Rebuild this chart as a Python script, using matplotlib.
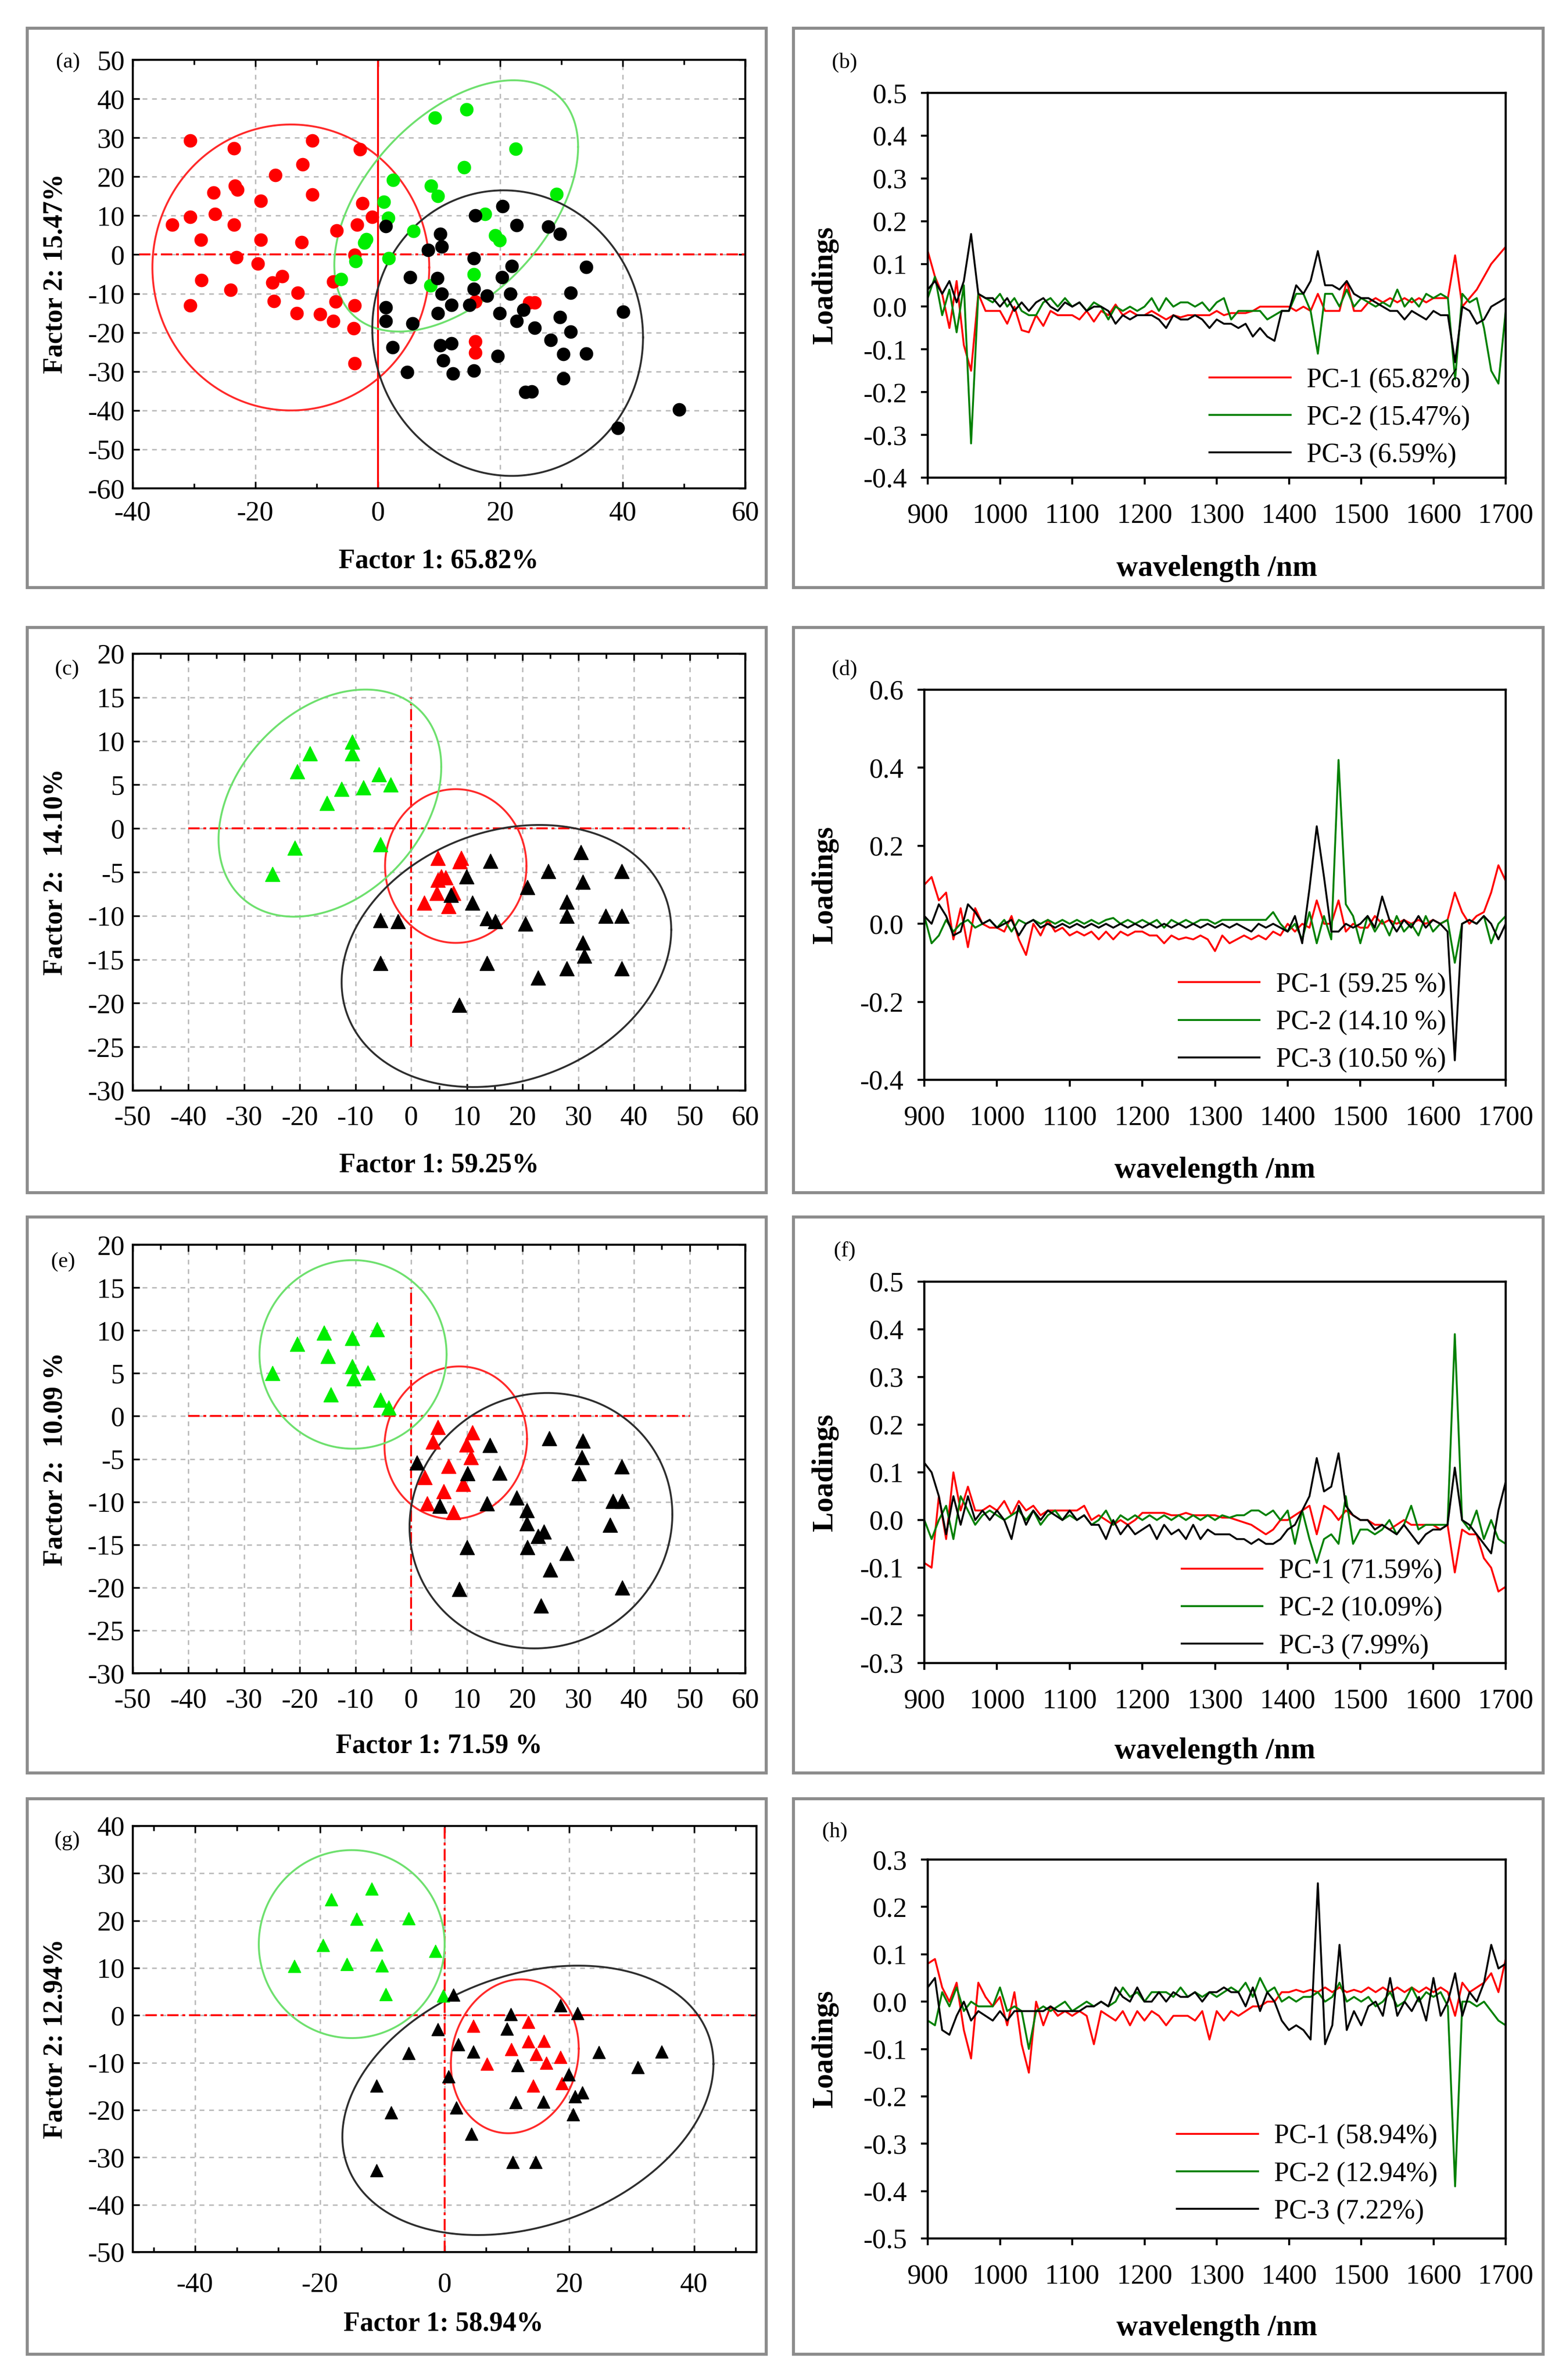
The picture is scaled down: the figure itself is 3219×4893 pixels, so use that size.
import numpy as np
import matplotlib
matplotlib.use('Agg')
import matplotlib.pyplot as plt
from matplotlib.patches import Rectangle
from matplotlib.ticker import MultipleLocator, FormatStrFormatter

plt.rcParams['font.family'] = ['Liberation Serif', 'DejaVu Serif']
plt.rcParams['axes.unicode_minus'] = False

# ---------------- scatter data (score plots) ----------------
a_red = [(-30.6, 29.3), (-23.5, 27.3), (-10.7, 29.3), (-2.9, 27.0), (-12.3, 23.2), (-16.7, 20.4),
         (-26.8, 15.9), (-23.3, 17.6), (-22.9, 16.7), (-10.7, 15.4), (-19.1, 13.8), (-2.5, 13.2),
         (-30.6, 9.7), (-26.6, 10.4), (-0.9, 9.7), (-33.6, 7.7), (-23.5, 7.7), (-3.4, 7.7),
         (-6.7, 6.2), (-28.9, 3.8), (-19.1, 3.8), (-12.4, 3.2), (-23.1, -0.7), (-3.8, -0.1),
         (-19.6, -2.3), (-28.8, -6.5), (-15.6, -5.5), (-17.2, -7.2), (-24.0, -9.0), (-13.1, -9.8),
         (-7.3, -6.9), (-30.6, -13.0), (-17.0, -11.9), (-6.9, -12.1), (-3.8, -13.1), (-13.2, -15.1),
         (-9.4, -15.3), (-7.3, -17.0), (-3.9, -18.9), (-3.8, -27.9), (15.9, -12.1), (15.9, -22.3),
         (15.9, -25.2), (24.7, -12.3), (25.6, -12.3)]
a_green = [(9.3, 35.1), (14.5, 37.3), (22.5, 27.2), (14.1, 22.4), (2.5, 19.1), (8.7, 17.6),
           (9.8, 15.0), (1.0, 13.6), (1.7, 9.4), (17.5, 10.4), (29.2, 15.5), (5.8, 6.0),
           (-1.9, 3.9), (-2.2, 3.0), (19.2, 4.9), (19.9, 3.7), (-3.6, -1.7), (1.8, -0.9),
           (-6.0, -6.3), (15.7, -5.1), (8.6, -7.9)]
a_black = [(20.4, 12.4), (15.9, 10.1), (1.3, 7.3), (22.7, 7.6), (27.8, 7.2), (29.7, 5.3),
           (10.2, 5.3), (10.4, 2.1), (8.2, 1.2), (15.7, -0.9), (21.9, -2.9), (34.0, -3.2),
           (5.3, -5.8), (9.7, -6.0), (20.3, -5.8), (15.7, -8.8), (17.8, -10.5), (10.4, -10.1),
           (21.6, -10.1), (31.5, -9.8), (12.0, -12.9), (15.0, -12.9), (1.3, -13.6), (23.8, -14.2),
           (9.8, -15.1), (19.9, -15.1), (40.1, -14.7), (1.3, -17.0), (5.7, -17.7), (22.7, -17.0),
           (29.7, -16.1), (25.6, -18.8), (31.5, -19.8), (28.2, -21.9), (2.4, -23.8), (10.2, -23.3),
           (12.0, -22.8), (10.7, -27.1), (19.6, -26.1), (30.3, -25.6), (34.0, -25.4), (4.8, -30.2),
           (12.3, -30.5), (15.7, -29.8), (30.3, -31.8), (24.1, -35.3), (25.1, -35.1), (49.2, -39.8),
           (39.2, -44.5)]

c_green = [(-10.6, 9.9), (-10.6, 8.6), (-18.2, 8.6), (-20.5, 6.5), (-5.8, 6.2), (-3.7, 5.0),
           (-8.6, 4.7), (-12.5, 4.5), (-15.1, 2.9), (-20.9, -2.2), (-5.5, -1.8), (-24.9, -5.2)]
c_red = [(4.8, -3.4), (9.0, -3.4), (8.7, -3.8), (5.4, -5.5), (6.2, -5.6), (4.8, -5.9),
         (4.6, -7.4), (7.6, -7.4), (2.3, -8.5), (6.7, -8.9)]
c_black = [(30.5, -2.7), (14.2, -3.7), (24.6, -4.9), (37.8, -4.9), (9.9, -5.5), (30.8, -6.1),
           (20.9, -6.7), (7.1, -7.6), (11.0, -8.5), (27.9, -8.4), (27.9, -10.0), (34.9, -10.0),
           (37.8, -10.0), (-5.5, -10.5), (-2.4, -10.6), (13.6, -10.3), (15.1, -10.6), (20.5, -10.9),
           (30.8, -13.1), (31.1, -14.6), (-5.5, -15.4), (13.6, -15.4), (27.9, -16.0), (37.8, -16.0),
           (22.8, -17.1), (8.6, -20.2)]

e_green = [(-6.1, 10.1), (-15.7, 9.7), (-10.6, 9.1), (-20.5, 8.4), (-15.0, 7.0), (-10.6, 5.8),
           (-7.8, 5.1), (-24.9, 5.0), (-10.3, 4.4), (-14.4, 2.5), (-5.5, 1.9), (-4.0, 1.0)]
e_red = [(4.8, -1.3), (11.0, -1.9), (3.9, -3.0), (9.9, -3.3), (10.7, -4.8), (6.7, -5.8),
         (2.4, -7.1), (9.3, -7.9), (5.8, -8.8), (2.9, -10.2), (7.6, -11.2)]
e_black = [(24.8, -2.6), (30.8, -2.9), (14.1, -3.4), (30.6, -4.8), (1.0, -5.4), (37.8, -5.9),
           (15.9, -6.6), (10.1, -6.7), (30.1, -6.7), (18.9, -9.5), (36.2, -9.9), (37.9, -9.9),
           (13.6, -10.2), (5.1, -10.5), (20.8, -11.0), (20.8, -12.5), (35.7, -12.7), (23.8, -13.5),
           (22.8, -14.0), (10.0, -15.3), (20.9, -15.3), (27.9, -16.0), (25.0, -17.9), (8.6, -20.2),
           (37.9, -20.0), (23.3, -22.1)]

g_green = [(-11.7, 26.7), (-18.2, 24.5), (-5.8, 20.5), (-14.1, 20.4), (-19.5, 14.8), (-10.9, 14.9),
           (-1.5, 13.6), (-24.1, 10.4), (-15.7, 10.8), (-10.1, 10.5), (-9.4, 4.5), (-0.2, 4.1)]
g_red = [(4.6, -2.2), (13.4, -1.4), (13.4, -5.5), (15.9, -5.4), (10.7, -7.2), (14.7, -8.2),
         (18.6, -8.8), (6.8, -10.2), (16.3, -10.0), (14.2, -14.9), (18.8, -14.3)]
g_black = [(1.4, 4.4), (18.6, 2.1), (21.3, 0.4), (10.6, 0.2), (10.0, -2.8), (-1.1, -2.9),
           (2.2, -6.1), (4.6, -7.7), (-5.8, -8.0), (24.7, -7.8), (34.8, -7.7), (11.7, -10.5),
           (31.0, -11.0), (0.6, -12.9), (19.9, -12.5), (-10.9, -14.9), (20.9, -17.1), (22.1, -16.3),
           (11.4, -18.4), (15.8, -18.3), (1.9, -19.5), (-8.6, -20.5), (20.6, -20.9), (4.3, -25.0),
           (10.9, -31.0), (14.6, -31.0), (-10.9, -32.7)]

# confidence ellipses: (centre x, centre y, sd x, sd y, correlation)
a_ell = {'red': (-14.2, -3.3, 22.6, 36.7, 0.0), 'green': (12.8, 12.5, 19.9, 32.25, 0.47),
         'black': (21.2, -20.15, 22.1, 36.65, -0.03)}
c_ell = {'red': (8.0, -4.3, 12.7, 8.8, 0.0), 'green': (-14.6, 2.9, 20.0, 13.0, 0.32),
         'black': (17.1, -14.6, 29.6, 15.0, 0.2)}
e_ell = {'red': (8.0, -3.1, 12.8, 8.9, 0.05), 'green': (-10.45, 7.2, 16.8, 11.0, 0.0),
         'black': (23.3, -12.2, 23.6, 14.9, 0.05)}
g_ell = {'red': (11.25, -8.65, 10.25, 16.25, 0.1), 'green': (-14.9, 15.05, 14.9, 19.85, 0.0),
         'black': (13.35, -17.95, 29.75, 28.45, 0.27)}

# ---------------- loadings (900-1700 nm, 10 nm step) ----------------
b_pc1 = [0.13, 0.07, 0.03, -0.05, 0.06, -0.09, -0.15, 0.03, -0.01, -0.01,
         -0.01, -0.04, 0.00, -0.055, -0.06, -0.02, -0.045, -0.01, -0.02, -0.02,
         -0.02, -0.03, -0.01, -0.035, -0.01, -0.02, 0.005, -0.02, -0.01, -0.02,
         -0.02, -0.01, -0.02, -0.03, -0.02, -0.025, -0.02, -0.02, -0.02, -0.02,
         -0.01, -0.02, -0.015, -0.015, -0.015, -0.01, 0.00, 0.00, 0.00, 0.00,
         0.00, -0.01, 0.00, -0.01, 0.03, -0.01, -0.01, -0.01, 0.06, -0.01,
         -0.01, 0.01, 0.02, 0.01, 0.02, 0.01, 0.02, 0.01, 0.02, 0.01,
         0.02, 0.02, 0.02, 0.12, 0.00, 0.02, 0.04, 0.07, 0.10, 0.12,
         0.14]
b_pc2 = [0.02, 0.07, -0.02, 0.04, -0.06, 0.05, -0.32, 0.03, 0.02, 0.01,
         0.03, 0.00, 0.02, -0.01, -0.02, -0.02, 0.01, 0.02, 0.00, 0.02,
         0.00, 0.01, -0.01, 0.01, 0.00, -0.03, 0.00, -0.01, 0.00, -0.01,
         0.00, 0.02, -0.01, 0.02, 0.00, 0.01, 0.01, 0.00, 0.01, -0.01,
         0.01, 0.02, -0.03, -0.01, -0.01, -0.01, -0.01, -0.03, -0.02, -0.01,
         -0.01, 0.03, 0.03, -0.01, -0.11, 0.03, 0.03, 0.00, 0.04, 0.00,
         0.02, 0.01, 0.00, 0.01, 0.00, 0.04, 0.00, 0.02, 0.00, 0.03,
         0.02, 0.03, 0.02, -0.17, 0.03, 0.01, 0.02, -0.05, -0.15, -0.18,
         -0.01]
b_pc3 = [0.04, 0.06, 0.03, 0.06, 0.01, 0.06, 0.17, 0.03, 0.02, 0.02,
         0.00, 0.02, -0.01, 0.01, -0.01, 0.01, 0.02, 0.00, -0.01, 0.01,
         0.00, 0.01, -0.01, 0.00, 0.00, -0.01, -0.04, -0.02, -0.03, -0.02,
         -0.02, -0.02, -0.03, -0.05, -0.02, -0.03, -0.03, -0.02, -0.03, -0.05,
         -0.03, -0.04, -0.04, -0.05, -0.04, -0.07, -0.05, -0.07, -0.08, -0.01,
         -0.01, 0.05, 0.03, 0.06, 0.13, 0.05, 0.05, 0.04, 0.06, 0.03,
         0.02, 0.02, 0.01, 0.00, -0.01, -0.01, -0.03, -0.01, -0.02, -0.03,
         -0.01, -0.02, -0.02, -0.13, 0.00, -0.01, -0.04, -0.03, 0.00, 0.01,
         0.02]

d_pc1 = [0.10, 0.12, 0.06, 0.08, -0.04, 0.04, -0.06, 0.04, 0.00, -0.01,
         -0.01, -0.02, 0.02, -0.04, -0.08, 0.00, -0.03, 0.01, -0.02, -0.01,
         -0.03, -0.02, -0.03, -0.02, -0.04, -0.02, -0.04, -0.02, -0.03, -0.02,
         -0.02, -0.03, -0.03, -0.05, -0.03, -0.04, -0.035, -0.04, -0.03, -0.04,
         -0.07, -0.03, -0.05, -0.04, -0.03, -0.04, -0.03, -0.04, -0.02, -0.03,
         0.00, -0.02, 0.00, -0.01, 0.06, 0.00, 0.00, 0.06, -0.02, 0.00,
         -0.01, -0.01, 0.02, 0.00, 0.01, 0.00, 0.01, 0.00, 0.01, 0.00,
         0.01, 0.00, 0.01, 0.08, 0.03, 0.00, 0.02, 0.03, 0.08, 0.15,
         0.11]
d_pc2 = [0.02, -0.05, -0.03, 0.01, -0.02, 0.00, 0.01, -0.01, 0.00, 0.01,
         -0.01, 0.01, -0.02, 0.01, 0.00, 0.01, 0.00, 0.01, 0.00, 0.01,
         0.00, 0.01, 0.00, 0.01, 0.00, 0.01, 0.015, 0.00, 0.01, 0.00,
         0.01, 0.00, 0.01, -0.01, 0.01, 0.00, 0.01, 0.00, 0.01, 0.01,
         0.00, 0.01, 0.01, 0.01, 0.01, 0.01, 0.01, 0.01, 0.03, 0.00,
         -0.02, 0.00, -0.04, 0.03, -0.05, 0.02, -0.04, 0.42, 0.05, 0.02,
         -0.05, 0.02, -0.02, 0.01, -0.03, 0.02, -0.02, 0.00, -0.03, 0.02,
         -0.02, 0.00, 0.01, -0.10, 0.00, 0.01, 0.00, 0.02, -0.05, 0.00,
         0.02]
d_pc3 = [0.02, 0.00, 0.05, 0.02, -0.03, -0.02, 0.05, 0.03, 0.00, 0.01,
         -0.01, 0.00, 0.01, -0.03, 0.00, 0.01, -0.01, 0.00, -0.01, 0.00,
         -0.01, 0.00, -0.01, 0.00, -0.01, 0.00, -0.01, 0.00, -0.01, 0.00,
         -0.01, 0.00, -0.01, 0.00, -0.01, 0.00, -0.01, 0.00, -0.01, 0.00,
         -0.01, 0.00, -0.01, 0.00, -0.01, -0.02, 0.00, -0.01, 0.00, -0.01,
         -0.02, 0.02, -0.05, 0.09, 0.25, 0.12, -0.02, -0.02, 0.00, -0.01,
         0.00, 0.02, -0.01, 0.07, 0.01, -0.02, 0.01, -0.01, 0.02, -0.01,
         0.01, 0.00, -0.02, -0.35, 0.00, 0.01, 0.00, 0.02, 0.00, -0.04,
         0.00]

f_pc1 = [-0.09, -0.10, 0.05, -0.04, 0.10, 0.02, 0.07, 0.02, 0.02, 0.03,
         0.02, 0.04, 0.01, 0.04, 0.02, 0.03, 0.01, 0.02, 0.02, 0.02,
         0.02, 0.02, 0.03, 0.00, 0.01, 0.00, -0.01, 0.00, -0.01, 0.00,
         0.015, 0.015, 0.015, 0.015, 0.01, 0.01, 0.015, 0.01, 0.01, 0.01,
         0.01, 0.005, 0.005, 0.00, -0.005, -0.01, -0.02, -0.03, -0.02, 0.00,
         0.00, 0.01, 0.02, 0.03, -0.03, 0.03, 0.02, 0.00, 0.02, 0.01,
         0.00, 0.00, -0.01, -0.01, -0.02, -0.01, 0.00, -0.01, -0.01, -0.01,
         -0.01, -0.02, -0.01, -0.11, -0.02, -0.03, -0.03, -0.08, -0.10, -0.15,
         -0.14]
f_pc2 = [0.00, -0.04, 0.00, 0.03, -0.04, 0.05, 0.02, -0.01, 0.01, 0.02,
         0.01, 0.00, 0.01, 0.02, 0.00, 0.02, -0.01, 0.01, 0.02, 0.00,
         0.01, 0.00, 0.01, -0.01, 0.00, 0.02, -0.01, 0.01, 0.00, 0.01,
         0.00, 0.01, 0.00, 0.01, 0.00, 0.01, 0.00, 0.01, 0.00, 0.01,
         0.00, 0.01, 0.005, 0.01, 0.01, 0.02, 0.02, 0.01, 0.02, 0.00,
         0.02, -0.05, 0.02, -0.04, -0.09, -0.04, -0.03, -0.05, 0.05, -0.05,
         -0.02, -0.02, -0.03, -0.02, 0.00, -0.03, -0.01, 0.03, -0.02, -0.01,
         -0.01, -0.01, -0.01, 0.39, 0.00, -0.02, 0.02, -0.04, 0.00, -0.04,
         -0.05]
f_pc3 = [0.12, 0.10, 0.05, -0.03, 0.05, -0.01, 0.05, 0.00, 0.02, 0.00,
         0.02, 0.00, -0.04, 0.03, -0.01, 0.02, 0.00, 0.02, 0.01, 0.00,
         0.02, 0.00, 0.01, -0.01, -0.01, -0.04, 0.00, -0.03, -0.01, -0.03,
         -0.02, -0.01, -0.04, -0.01, -0.03, -0.02, -0.04, -0.01, -0.04, -0.02,
         -0.03, -0.03, -0.03, -0.04, -0.04, -0.05, -0.04, -0.05, -0.05, -0.04,
         -0.02, -0.01, 0.02, 0.05, 0.13, 0.06, 0.07, 0.14, 0.03, 0.01,
         0.00, 0.00, -0.02, -0.01, -0.02, -0.03, -0.01, -0.03, -0.05, -0.03,
         -0.02, -0.02, -0.01, 0.11, 0.00, -0.01, -0.03, -0.05, -0.07, 0.02,
         0.08]

h_pc1 = [0.08, 0.09, 0.03, 0.00, 0.04, -0.06, -0.12, 0.04, 0.01, -0.01,
         0.01, -0.05, 0.02, -0.09, -0.15, 0.00, -0.05, -0.01, -0.03, -0.02,
         -0.03, -0.02, -0.03, -0.09, -0.02, -0.03, -0.04, -0.02, -0.05, -0.02,
         -0.04, -0.02, -0.03, -0.05, -0.03, -0.03, -0.03, -0.04, -0.02, -0.08,
         -0.02, -0.04, -0.02, -0.03, -0.02, -0.01, -0.01, 0.00, 0.00, 0.02,
         0.02, 0.025, 0.02, 0.025, 0.02, 0.03, 0.02, 0.03, 0.02, 0.025,
         0.02, 0.03, 0.02, 0.03, 0.02, 0.03, 0.02, 0.03, 0.02, 0.03,
         0.02, 0.03, 0.02, -0.03, 0.04, 0.02, 0.03, 0.04, 0.06, 0.02,
         0.09]
h_pc2 = [-0.04, -0.05, 0.02, -0.01, 0.03, -0.02, 0.00, -0.01, -0.01, -0.01,
         0.03, -0.02, -0.01, -0.02, -0.10, -0.02, -0.01, -0.02, -0.01, 0.00,
         -0.02, -0.01, 0.00, -0.01, 0.00, -0.01, 0.00, 0.03, 0.01, 0.02,
         0.00, 0.02, 0.02, 0.02, 0.01, 0.03, 0.01, 0.02, 0.01, 0.02,
         0.01, 0.02, 0.03, 0.02, 0.04, 0.01, 0.05, 0.02, 0.03, 0.00,
         0.01, 0.00, 0.01, 0.01, 0.02, 0.00, 0.01, 0.04, 0.00, 0.01,
         0.00, 0.01, -0.01, 0.00, 0.02, -0.01, 0.00, 0.03, 0.00, 0.02,
         0.01, 0.02, -0.01, -0.39, 0.00, 0.00, -0.01, 0.00, -0.02, -0.04,
         -0.05]
h_pc3 = [0.03, 0.05, -0.06, -0.07, -0.03, 0.00, -0.04, -0.02, -0.03, -0.04,
         -0.02, -0.04, -0.02, -0.02, -0.02, -0.02, -0.02, -0.01, -0.02, -0.02,
         -0.02, -0.02, -0.01, -0.01, 0.00, -0.01, 0.03, 0.01, 0.00, 0.03,
         0.00, 0.00, 0.02, 0.00, 0.02, 0.01, 0.01, 0.02, 0.00, 0.02,
         0.02, 0.03, 0.02, 0.02, -0.01, 0.03, -0.02, 0.02, 0.00, -0.04,
         -0.06, -0.05, -0.06, -0.08, 0.25, -0.09, -0.05, 0.12, -0.06, -0.02,
         -0.05, -0.01, 0.00, -0.03, 0.05, -0.03, 0.00, -0.02, 0.01, -0.04,
         0.05, -0.03, 0.00, 0.06, -0.03, 0.02, 0.00, 0.04, 0.12, 0.07,
         0.08]

b_labels = ['PC-1 (65.82%)', 'PC-2 (15.47%)', 'PC-3 (6.59%)']
d_labels = ['PC-1 (59.25 %)', 'PC-2 (14.10 %)', 'PC-3 (10.50 %)']
f_labels = ['PC-1 (71.59%)', 'PC-2 (10.09%)', 'PC-3 (7.99%)']
h_labels = ['PC-1 (58.94%)', 'PC-2 (12.94%)', 'PC-3 (7.22%)']

# ---------------- figure ----------------
W, H = 3219, 4893
fig = plt.figure(figsize=(W / 100, H / 100), dpi=100)

def ax_at(x0, x1, y0, y1):
    return fig.add_axes([x0 / W, 1 - y1 / H, (x1 - x0) / W, (y1 - y0) / H])

def ftext(x, y, s, **kw):
    fig.text(x / W, 1 - y / H, s, ha='center', va='center', **kw)

# panel frames
for (x0, x1) in [(56, 1575), (1631, 3172)]:
    for (y0, y1) in [(58, 1208), (1290, 2452), (2502, 3645), (3698, 4840)]:
        fig.add_artist(Rectangle((x0 / W, 1 - y1 / H), (x1 - x0) / W, (y1 - y0) / H,
                                 transform=fig.transFigure, fill=False,
                                 edgecolor='#8c8c8c', lw=4.5))

TICK_FS = 41
LAB_FS = 40
MK_RED, MK_GREEN, MK_BLACK = '#ff0000', '#00ee00', '#000000'
EL_COL = {'red': '#ff2a2a', 'green': '#6ee06e', 'black': '#2e2e2e'}

def draw_ellipse(ax, p, color):
    cx, cy, sx, sy, rho = p
    t = np.linspace(0, 2 * np.pi, 400)
    x = cx + sx * np.cos(t)
    y = cy + sy * (rho * np.cos(t) + np.sqrt(1 - rho ** 2) * np.sin(t))
    ax.plot(x, y, color=color, lw=2.8, zorder=3)

def score_panel(ax, groups, ells, marker, ms, xlim, ylim, xmaj, ymaj, xmin_loc,
                hline, vline, vstyle, xpad):
    ax.set_xlim(*xlim)
    ax.set_ylim(*ylim)
    ax.xaxis.set_major_locator(MultipleLocator(xmaj))
    ax.yaxis.set_major_locator(MultipleLocator(ymaj))
    if xmin_loc:
        ax.xaxis.set_minor_locator(MultipleLocator(xmin_loc))
    ax.grid(True, which='major', color='#bdbdbd', ls=(0, (3.2, 3.2)), lw=2.2, zorder=0)
    ax.tick_params(which='both', direction='in', top=True, right=True, width=2.5)
    ax.tick_params(which='major', length=10)
    ax.tick_params(which='minor', length=7)
    ax.tick_params(axis='x', labelsize=TICK_FS, pad=xpad)
    ax.tick_params(axis='y', labelsize=TICK_FS, pad=12)
    for s in ax.spines.values():
        s.set_linewidth(3.0)
    ax.plot(hline, [0, 0], color='red', ls=(0, (6, 2, 1.5, 2)), lw=2.8, zorder=2)
    ax.plot([0, 0], vline, color='red', ls=vstyle, lw=2.8, zorder=2)
    for key in ['red', 'green', 'black']:
        draw_ellipse(ax, ells[key], EL_COL[key])
    for pts, col in groups:
        arr = np.array(pts)
        ax.plot(arr[:, 0], arr[:, 1], ls='none', marker=marker, ms=ms, color=col,
                mec=col, zorder=4)
    ax.set_axisbelow(True)

def loading_panel(ax, series, labels, ylim, ystep, legpos):
    cols = ['#ff0000', '#008000', '#000000']
    for s, c, lab in zip(series, cols, labels):
        ax.plot(900 + 10 * np.arange(len(s)), s, color=c, lw=2.8, label=lab)
    ax.set_xlim(900, 1700)
    ax.set_ylim(*ylim)
    ax.xaxis.set_major_locator(MultipleLocator(100))
    ax.yaxis.set_major_locator(MultipleLocator(ystep))
    ax.yaxis.set_major_formatter(FormatStrFormatter('%.1f'))
    ax.tick_params(direction='out', length=10, width=3, top=False, right=False)
    ax.tick_params(axis='x', labelsize=TICK_FS, pad=28)
    ax.tick_params(axis='y', labelsize=TICK_FS, pad=20)
    for s in ax.spines.values():
        s.set_linewidth(3.2)
    ax.legend(loc='center left', bbox_to_anchor=legpos, frameon=False, fontsize=40,
              handlelength=3.0, handletextpad=0.6, labelspacing=0.45,
              borderaxespad=0, borderpad=0)

# ---- (a)
ax = ax_at(273, 1532, 123, 1004)
score_panel(ax, [(a_red, MK_RED), (a_green, MK_GREEN), (a_black, MK_BLACK)], a_ell,
            'o', 19, (-40, 60), (-60, 50), 20, 10, 10, [-39, 60], [-60, 50], '-', 18)
ftext(902, 1154, 'Factor 1: 65.82%', fontsize=LAB_FS, fontweight='bold')
ftext(114, 563, 'Factor 2: 15.47%', fontsize=LAB_FS, fontweight='bold', rotation=90)
ftext(140, 129, '(a)', fontsize=32)

# ---- (b)
ax = ax_at(1907, 3095, 191, 982)
loading_panel(ax, [b_pc1, b_pc2, b_pc3], b_labels, (-0.4, 0.5), 0.1, (0.4875, 0.156))
ftext(2501, 1169, 'wavelength /nm', fontsize=44, fontweight='bold')
ftext(1696, 586, 'Loadings', fontsize=44, fontweight='bold', rotation=90)
ftext(1736, 129, '(b)', fontsize=32)

# ---- (c)
ax = ax_at(273, 1532, 1344, 2242)
score_panel(ax, [(c_green, MK_GREEN), (c_red, MK_RED), (c_black, MK_BLACK)], c_ell,
            '^', 22, (-50, 60), (-30, 20), 10, 5, 5, [-40, 50], [-25, 15],
            (0, (6, 2, 1.5, 2)), 22)
ftext(902, 2395, 'Factor 1: 59.25%', fontsize=LAB_FS, fontweight='bold')
ftext(114, 1793, 'Factor 2:  14.10%', fontsize=LAB_FS, fontweight='bold', rotation=90)
ftext(138, 1377, '(c)', fontsize=32)

# ---- (d)
ax = ax_at(1900, 3095, 1418, 2220)
loading_panel(ax, [d_pc1, d_pc2, d_pc3], d_labels, (-0.4, 0.6), 0.2, (0.4375, 0.147))
ftext(2497, 2406, 'wavelength /nm', fontsize=44, fontweight='bold')
ftext(1696, 1819, 'Loadings', fontsize=44, fontweight='bold', rotation=90)
ftext(1736, 1377, '(d)', fontsize=32)

# ---- (e)
ax = ax_at(273, 1532, 2559, 3440)
score_panel(ax, [(e_green, MK_GREEN), (e_red, MK_RED), (e_black, MK_BLACK)], e_ell,
            '^', 22, (-50, 60), (-30, 20), 10, 5, 5, [-40, 50], [-25, 15],
            (0, (6, 2, 1.5, 2)), 22)
ftext(902, 3589, 'Factor 1: 71.59 %', fontsize=LAB_FS, fontweight='bold')
ftext(114, 3000, 'Factor 2:  10.09 %', fontsize=LAB_FS, fontweight='bold', rotation=90)
ftext(130, 2595, '(e)', fontsize=32)

# ---- (f)
ax = ax_at(1900, 3095, 2635, 3419)
loading_panel(ax, [f_pc1, f_pc2, f_pc3], f_labels, (-0.3, 0.5), 0.1, (0.4425, 0.1425))
ftext(2497, 3600, 'wavelength /nm', fontsize=44, fontweight='bold')
ftext(1696, 3027, 'Loadings', fontsize=44, fontweight='bold', rotation=90)
ftext(1736, 2572, '(f)', fontsize=32)

# ---- (g)
ax = ax_at(273, 1555, 3754, 4630)
score_panel(ax, [(g_green, MK_GREEN), (g_red, MK_RED), (g_black, MK_BLACK)], g_ell,
            '^', 19, (-50, 50), (-50, 40), 20, 10, 20 / 3, [-48, 50], [-50, 40],
            (0, (6, 2, 1.5, 2)), 30)
ftext(912, 4778, 'Factor 1: 58.94%', fontsize=LAB_FS, fontweight='bold')
ftext(114, 4192, 'Factor 2: 12.94%', fontsize=LAB_FS, fontweight='bold', rotation=90)
ftext(138, 3785, '(g)', fontsize=32)

# ---- (h)
ax = ax_at(1907, 3095, 3823, 4602)
loading_panel(ax, [h_pc1, h_pc2, h_pc3], h_labels, (-0.5, 0.3), 0.1, (0.431, 0.17))
ftext(2501, 4786, 'wavelength /nm', fontsize=44, fontweight='bold')
ftext(1696, 4212, 'Loadings', fontsize=44, fontweight='bold', rotation=90)
ftext(1716, 3766, '(h)', fontsize=32)

fig.savefig('out.png', dpi=100, facecolor='white')
